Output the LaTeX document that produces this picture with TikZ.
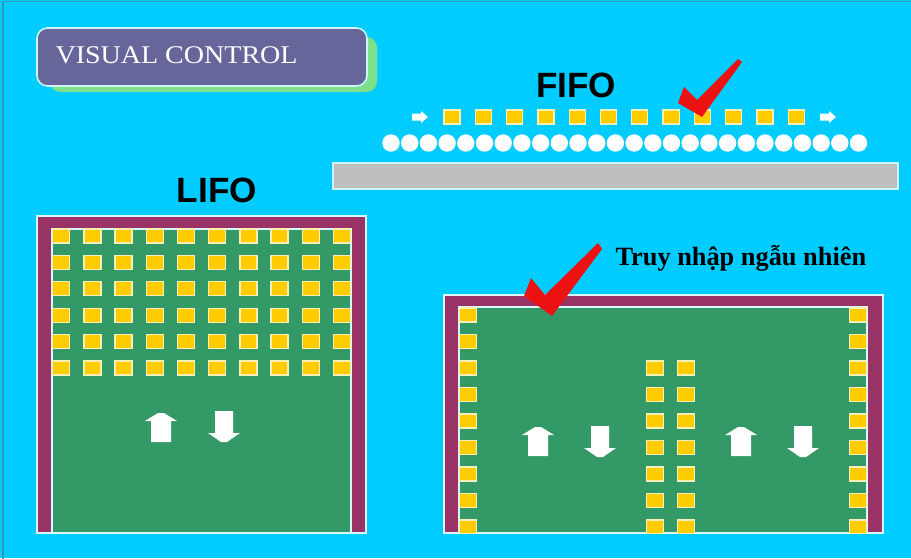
\documentclass[tikz,border=0pt]{standalone}
\usepackage{fontspec}
\setmainfont{Liberation Serif}
\setsansfont{Liberation Sans}
\newfontfamily\titlefont[FakeStretch=1.1]{Liberation Serif}
\definecolor{skyc}{HTML}{00CCFF}
\definecolor{framec}{HTML}{2E9AB4}
\definecolor{titlec}{HTML}{66669A}
\definecolor{shadowc}{HTML}{7FE08C}
\definecolor{wallc}{HTML}{993366}
\definecolor{floorc}{HTML}{339966}
\definecolor{boxc}{HTML}{FFCC00}
\definecolor{boxedge}{HTML}{F6F0B8}
\definecolor{railc}{HTML}{BEBEBE}
\definecolor{tickc}{HTML}{EE1111}

\begin{document}
\begin{tikzpicture}[x=0.02cm,y=-0.02cm,line width=0.6pt,
  yelsq/.style={fill=boxc,draw=boxedge,line width=0.7pt},
  wall/.style={fill=wallc,draw=white!85!skyc,line width=0.7pt},
  floorg/.style={fill=floorc,draw=white!85!skyc,line width=0.7pt},
  uparr/.pic={\fill[white] (-3,0) -- (3,0) -- (16,8) -- (10,8) -- (10,29)
      -- (-10,29) -- (-10,8) -- (-16,8) -- cycle;},
  dnarr/.pic={\fill[white] (-9,0) -- (9,0) -- (9,22) -- (16,22) -- (3,31)
      -- (-3,31) -- (-16,22) -- (-9,22) -- cycle;},
  rtarr/.pic={\fill[white] (0,-3.5) -- (9,-3.5) -- (9,-6) -- (16,0) -- (9,6)
      -- (9,3.5) -- (0,3.5) -- cycle;}]
\useasboundingbox (0,0) rectangle (911,558);
% ---- background ----
\fill[skyc] (0,0) rectangle (911,558);
\draw[framec,line width=0.8pt] (3,560) -- (3,1.5) -- (913,1.5);
% ---- title plate ----
\fill[shadowc,rounded corners=6pt] (50,37) rectangle (377,92);
\draw[fill=titlec,draw=white!80!skyc,line width=0.9pt,rounded corners=6pt] (37,28) rectangle (367,86);
\node[anchor=base west,inner sep=0pt,text=white,font=\titlefont\fontsize{14.5}{17}\selectfont] (title) at (55,63) {VISUAL CONTROL};
% ---- FIFO lane ----
\node[anchor=base,inner sep=0pt,font=\fontsize{20}{24}\sffamily\bfseries] (fifo) at (576,97) {FIFO};
\pic at (412,117) {rtarr};
\pic at (820,117) {rtarr};
\foreach \i in {0,...,11}
  \draw[yelsq] (444+31.3*\i,110) rectangle ++(16,14);
\foreach \i in {0,...,25}
  \fill[white] (391+18.7*\i,143) circle (8.7);
\fill[railc,draw=white!80!skyc,line width=0.6pt] (333,163) rectangle (898,189);
\fill[tickc] (684,87) -- (697,100) -- (738,59) -- (742,62) -- (702,117) -- (678,103) -- cycle;
% ---- LIFO rack ----
\node[anchor=base,inner sep=0pt,font=\fontsize{20}{24}\sffamily\bfseries] (lifo) at (217,202) {LIFO};
\draw[wall] (37,216) rectangle (366,533);
\draw[floorg] (52,229) rectangle (351,533);
\foreach \i in {0,...,9}
  \foreach \j in {0,...,5}
    \draw[yelsq] (52.7+31.2*\i,229+26.4*\j) rectangle ++(17,14);
\pic at (161,413) {uparr};
\pic at (224,411) {dnarr};
% ---- random access rack ----
\node[anchor=base west,inner sep=0pt,font=\fontsize{15}{18}\bfseries] (rnd) at (615,265) {Truy nhập ngẫu nhiên};
\draw[wall] (444,295) rectangle (883,533);
\draw[floorg] (459,307) rectangle (867,533);
\begin{scope}
\clip (459,307) rectangle (867,533);
\foreach \j in {0,...,8} {
  \draw[yelsq] (459.5,308+26.5*\j) rectangle ++(17,14);
  \draw[yelsq] (849.5,308+26.5*\j) rectangle ++(17,14);
}
\foreach \j in {2,...,8} {
  \draw[yelsq] (646.5,308+26.5*\j) rectangle ++(17,14);
  \draw[yelsq] (677.5,308+26.5*\j) rectangle ++(17,14);
}
\end{scope}
\pic at (538,427) {uparr};
\pic at (600,426) {dnarr};
\pic at (741,427) {uparr};
\pic at (803,426) {dnarr};
\fill[tickc] (531,278) -- (545,295) -- (598,243) -- (602,249) -- (552,316) -- (524,296) -- cycle;
\end{tikzpicture}
\end{document}
